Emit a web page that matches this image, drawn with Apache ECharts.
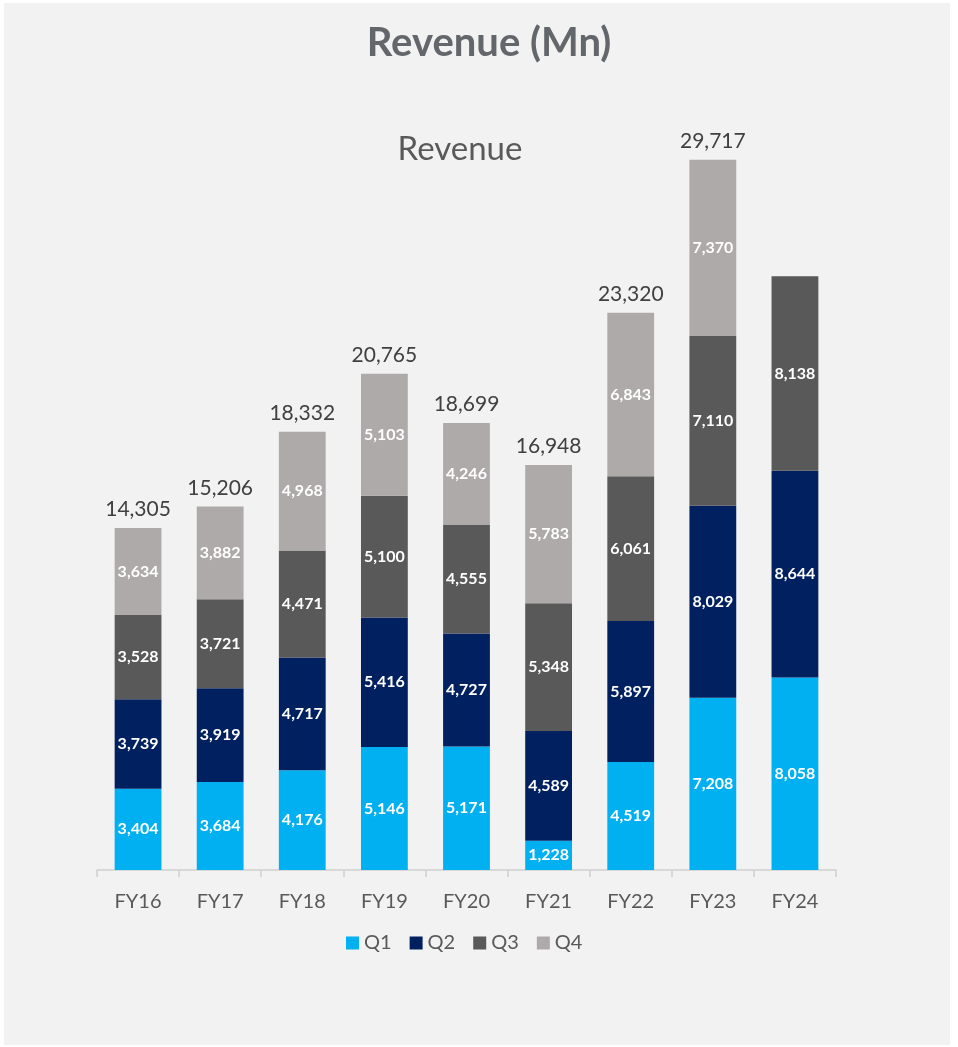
<!DOCTYPE html>
<html>
<head>
<meta charset="utf-8">
<script src="https://cdn.jsdelivr.net/npm/echarts@6/dist/echarts.min.js"></script>
<style>
  html, body { margin: 0; padding: 0; background: #fff; }
  #chart { position: absolute; left: 4px; top: 3px; width: 946px; height: 1042px; }
</style>
</head>
<body>
<div id="chart"></div>
<script>
const years = ['FY16', 'FY17', 'FY18', 'FY19', 'FY20', 'FY21', 'FY22', 'FY23', 'FY24']
const q1 = [3404, 3684, 4176, 5146, 5171, 1228, 4519, 7208, 8058]
const q2 = [3739, 3919, 4717, 5416, 4727, 4589, 5897, 8029, 8644]
const q3 = [3528, 3721, 4471, 5100, 4555, 5348, 6061, 7110, 8138]
const q4 = [3634, 3882, 4968, 5103, 4246, 5783, 6843, 7370, null]
const totals = [14305, 15206, 18332, 20765, 18699, 16948, 23320, 29717, null]

const font = 'Lato, "Open Sans", sans-serif'
const fmt = (v) => v.toLocaleString('en-US')

const quarter = (name, data, color) => ({
  name,
  type: 'bar',
  stack: 'rev',
  barWidth: '57%',
  data,
  itemStyle: { color },
  label: {
    show: true,
    position: 'inside',
    color: '#fff',
    fontFamily: font,
    fontWeight: 'bold',
    fontSize: 16,
    formatter: (p) => fmt(p.value)
  }
})

const chart = echarts.init(document.getElementById('chart'))
chart.setOption({
  backgroundColor: '#f2f2f2',
  animation: false,
  title: [
    {
      text: 'Revenue (Mn)',
      left: 480,
      top: 15,
      textAlign: 'center',
      textStyle: { fontFamily: font, fontSize: 40, fontWeight: 'bold', color: '#63666a' }
    },
    {
      text: 'Revenue',
      left: 451,
      top: 125,
      textAlign: 'center',
      textStyle: { fontFamily: font, fontSize: 33, fontWeight: 'normal', color: '#595959' }
    }
  ],
  legend: {
    data: ['Q1', 'Q2', 'Q3', 'Q4'],
    left: 337,
    top: 925,
    itemWidth: 13,
    itemHeight: 13,
    itemGap: 18,
    icon: 'rect',
    textStyle: { fontFamily: font, fontSize: 20, color: '#595959' }
  },
  grid: { left: 93, right: 114, top: 150, bottom: 175 },
  xAxis: {
    type: 'category',
    data: years,
    axisLine: { lineStyle: { color: '#d0d0d0', width: 1.5 } },
    axisTick: { show: true, length: 7, lineStyle: { color: '#d0d0d0', width: 1.5 } },
    axisLabel: { fontFamily: font, fontSize: 20, color: '#595959', margin: 22 }
  },
  yAxis: {
    type: 'value',
    min: 0,
    max: 30000,
    show: false,
    splitLine: { show: false }
  },
  series: [
    quarter('Q1', q1, '#00b0f0'),
    quarter('Q2', q2, '#002060'),
    quarter('Q3', q3, '#595959'),
    quarter('Q4', q4, '#aeaaaa'),
    {
      name: 'Total',
      type: 'bar',
      stack: 'rev',
      data: totals.map((t) => (t == null ? null : 0)),
      itemStyle: { color: 'transparent' },
      label: {
        show: true,
        position: 'top',
        distance: 8,
        color: '#404040',
        fontFamily: font,
        fontSize: 21,
        formatter: (p) => (totals[p.dataIndex] == null ? '' : fmt(totals[p.dataIndex]))
      }
    }
  ]
})
</script>
</body>
</html>
